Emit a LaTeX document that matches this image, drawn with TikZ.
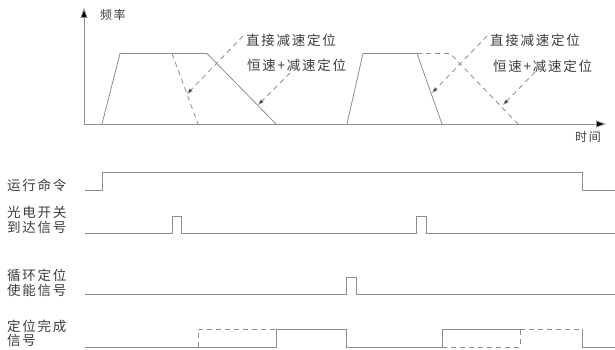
\documentclass[tikz,border=0pt]{standalone}
\usepackage{fontspec}
\newfontfamily\cjk[LetterSpace=13]{Noto Sans CJK SC}
\usetikzlibrary{arrows.meta}
\definecolor{linegray}{HTML}{8E8E8E}
\definecolor{txt}{HTML}{3C3C3C}
\begin{document}
\begin{tikzpicture}[x=1pt,y=-1pt,
  sig/.style={draw=linegray, line width=0.8pt},
  dsig/.style={draw=linegray, line width=0.8pt, dash pattern=on 5pt off 4pt},
  axis/.style={draw=linegray, line width=0.8pt, -{Triangle[length=10pt,width=7pt,fill=black]}},
  callout/.style={draw=linegray, line width=0.8pt, dash pattern=on 5pt off 4pt, -{Triangle[length=6pt,width=4pt,fill=black]}},
  lbl/.style={text=txt, font=\cjk\fontsize{13.5}{15}\selectfont, inner sep=0pt, anchor=west, align=left},
  small/.style={text=txt, font=\cjk\fontsize{12}{13}\selectfont, inner sep=0pt, anchor=west}]
\useasboundingbox (0,0) rectangle (615,350);
% axes
\coordinate (o) at (84,124);
\coordinate (ytop) at (84,8);
\coordinate (xend) at (606,124);
\draw[axis] (o) -- (ytop);
\draw[axis] (o) -- (xend);
\node[small] (fl) at (100,15) {频率};
\node[small] (tm) at (575,137) {时间};
% cycle 1 profiles
\draw[sig] (102,124) -- (120,53.5) -- (207,53.5) -- (276,124);
\draw[dsig] (172,53.5) -- (198,124);
% cycle 2 profiles
\draw[sig] (347,124) -- (363,53.5) -- (417,53.5) -- (442,124);
\draw[dsig] (417,53.5) -- (450,53.5) -- (518,124);
% callouts cycle 1
\node[lbl] (d1) at (246,40) {直接减速定位};
\node[lbl] (c1) at (247,65) {恒速+减速定位};
\coordinate (d1s) at (243,36);
\coordinate (d1e) at (187,94);
\coordinate (c1s) at (290,73);
\coordinate (c1e) at (258,105);
\draw[callout] (d1s) -- (d1e);
\draw[callout] (c1s) -- (c1e);
% callouts cycle 2
\node[lbl] (d2) at (490,40) {直接减速定位};
\node[lbl] (c2) at (493,66) {恒速+减速定位};
\coordinate (d2s) at (487,36);
\coordinate (d2e) at (432,93);
\coordinate (c2s) at (535,72);
\coordinate (c2e) at (503,105);
\draw[callout] (d2s) -- (d2e);
\draw[callout] (c2s) -- (c2e);
% signal labels
\node[lbl] (run) at (7,185) {运行命令};
\node[lbl] (pe) at (7,219.5) {光电开关\\到达信号};
\node[lbl] (cy) at (7,282.5) {循环定位\\使能信号};
\node[lbl, font=\cjk\fontsize{13.5}{14}\selectfont] (dn) at (7,333.5) {定位完成\\信号};
% signals
\draw[sig] (85,190) -- (102,190) -- (102,172) -- (582,172) -- (582,190) -- (615,190);
\draw[sig] (85,233) -- (172,233) -- (172,216) -- (181,216) -- (181,233) -- (416,233) -- (416,216) -- (426,216) -- (426,233) -- (615,233);
\draw[sig] (85,294) -- (346,294) -- (346,277) -- (356,277) -- (356,294) -- (615,294);
\draw[sig] (85,347) -- (276,347) -- (276,329) -- (346,329) -- (346,347) -- (442,347) -- (442,329) -- (520,329);
\draw[dsig] (520,329) -- (582,329);
\draw[sig] (582,329) -- (582,347) -- (615,347);
\draw[dsig] (198,347) -- (198,329) -- (276,329);
\draw[dsig] (442,347) -- (520,347) -- (520,329);
\end{tikzpicture}
\end{document}
